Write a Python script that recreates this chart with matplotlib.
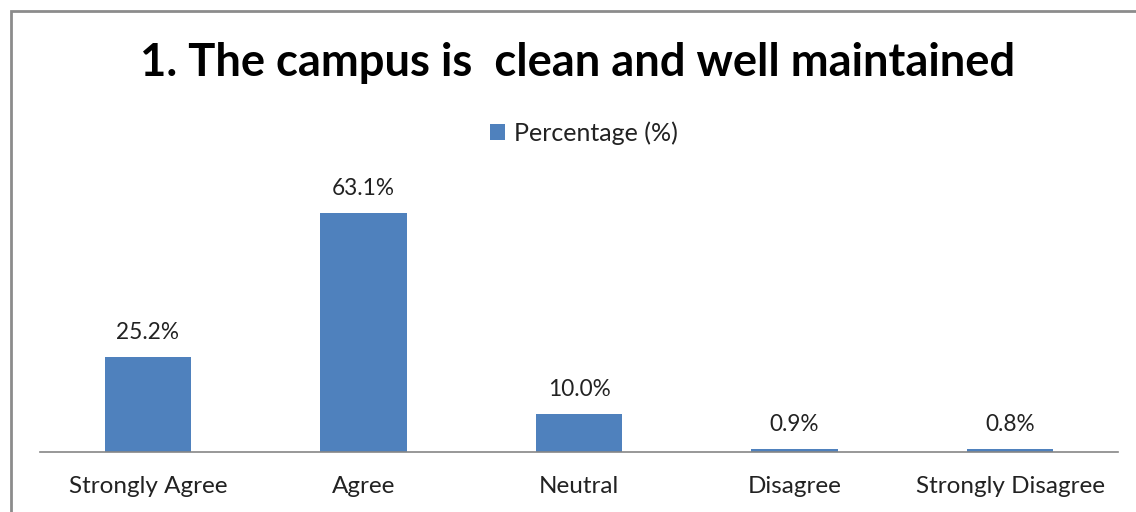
import matplotlib
matplotlib.use("Agg")
import matplotlib.pyplot as plt
from matplotlib.patches import Rectangle

categories = ["Strongly Agree", "Agree", "Neutral", "Disagree", "Strongly Disagree"]
percentages = [25.2, 63.1, 10.0, 0.9, 0.8]
labels = ["25.2%", "63.1%", "10.0%", "0.9%", "0.8%"]
series_name = "Percentage (%)"
title = "1. The campus is  clean and well maintained"

W, H = 1136, 512
fig = plt.figure(figsize=(W / 100, H / 100), dpi=100)
plt.rcParams['font.family'] = ['Lato', 'DejaVu Sans']

# outer chart border
fig.patches.append(Rectangle((11 / W, -0.1), 1.2, (H - 11) / H + 0.1, transform=fig.transFigure,
                             fill=False, edgecolor="#8c8c8c", linewidth=2))

ymax = 70
ax = fig.add_axes([40 / W, 60 / H, (1118 - 40) / W, 265 / H])
x = list(range(len(categories)))
bars = ax.bar(x, percentages, width=0.4, color="#4F81BD", label=series_name, zorder=2)
ax.set_xlim(-0.5, len(categories) - 0.5)
ax.set_ylim(0, ymax)
for s in ["top", "right", "left"]:
    ax.spines[s].set_visible(False)
ax.spines["bottom"].set_color("#868686")
ax.spines["bottom"].set_linewidth(1.2)
ax.set_yticks([])
ax.set_xticks(x)
ax.set_xticklabels(categories, fontsize=17.5, color="#222222")
ax.tick_params(axis="x", length=0, pad=17)

for xi, v, lab in zip(x, percentages, labels):
    ax.annotate(lab, (xi, v), xytext=(0, 10), textcoords="offset points",
                ha="center", va="bottom", fontsize=16.3, color="#222222")

fig.text(578 / W, 1 - 63 / H, title, ha="center", va="center",
         fontsize=32.7, fontweight="bold", color="black")

leg = fig.legend(handles=[bars], labels=[series_name], loc="center",
                 bbox_to_anchor=(584 / W, 1 - 133 / H), frameon=False,
                 fontsize=18, handlelength=0.6, handleheight=0.6, handletextpad=0.35)
for t in leg.get_texts():
    t.set_color("#222222")

fig.savefig("out.png", dpi=100)
